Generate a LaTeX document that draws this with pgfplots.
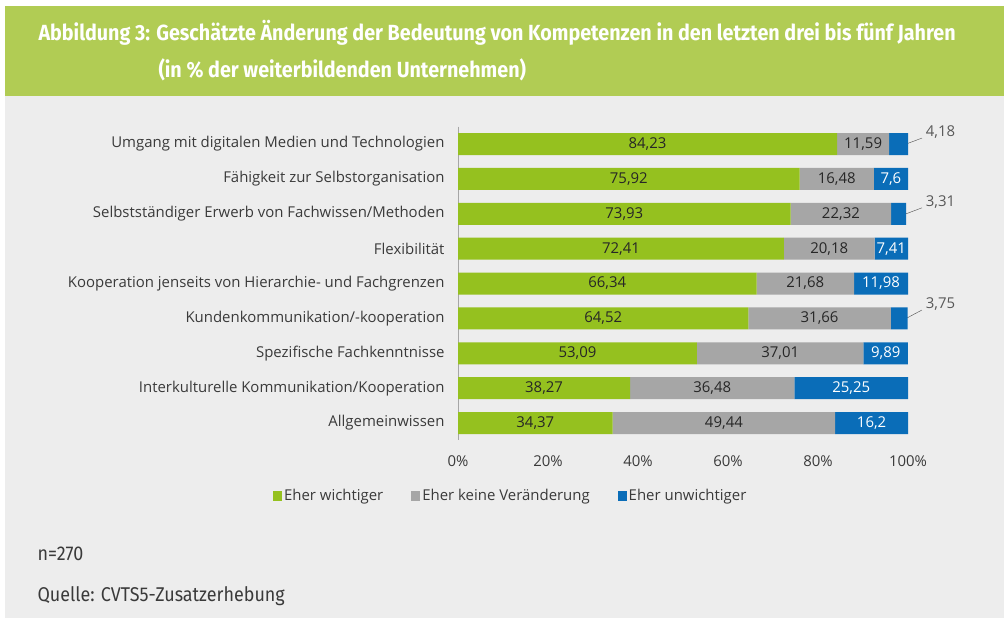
\documentclass[border=0pt]{standalone}
\usepackage{fontspec}
\setmainfont{Open Sans}
\newfontfamily\condfont[FakeStretch=0.90]{Fira Sans}
\usepackage{pgfplots}
\usepackage{pgfplotstable}
\pgfplotsset{compat=1.18}

\definecolor{hdr}{HTML}{B1CC54}
\definecolor{bg}{HTML}{EDEDED}
\definecolor{cG}{HTML}{95C11F}
\definecolor{cK}{HTML}{A6A6A6}
\definecolor{cU}{HTML}{0A6DB8}
\definecolor{txt}{HTML}{3A3A3A}

% i = row, g/k/u = wichtiger / keine Veraenderung / unwichtiger
\pgfplotstableread{
i g     k     u     gl    kl    ul
0 84.23 11.59 4.18  84,23 11,59 {}
1 75.92 16.48 7.6   75,92 16,48 7,6
2 73.93 22.32 3.31  73,93 22,32 {}
3 72.41 20.18 7.41  72,41 20,18 7,41
4 66.34 21.68 11.98 66,34 21,68 11,98
5 64.52 31.66 3.75  64,52 31,66 {}
6 53.09 37.01 9.89  53,09 37,01 9,89
7 38.27 36.48 25.25 38,27 36,48 25,25
8 34.37 49.44 16.2  34,37 49,44 16,2
}\data

\newcommand{\fs}{\fontsize{15}{18}\selectfont}

\pgfplotsset{
  frame/.style={
    at={(458bp,-144bp)}, anchor=origin,
    x=4.5bp, y=34.875bp, y dir=reverse,
    xmin=0, xmax=100, ymin=-0.5, ymax=8.5,
    clip=false,
  },
  seglabel/.style={draw=none, mark=none, nodes near coords,
    point meta=explicit symbolic,
    nodes near coords style={anchor=center, inner sep=0pt, font=\fs, text=#1}},
}

\begin{document}
\begin{tikzpicture}
\fill[white] (0bp,0bp) rectangle (1004bp,-619bp);
\fill[hdr] (5bp,-6bp) rectangle (1004bp,-96bp);
\fill[bg] (5bp,-96bp) rectangle (1004bp,-618bp);

\node[anchor=west, text=white, font=\condfont\bfseries\fontsize{22}{26}\selectfont]
  at (35bp,-33bp) {Abbildung 3: Geschätzte Änderung der Bedeutung von Kompetenzen in den letzten drei bis fünf Jahren};
\node[anchor=west, text=white, font=\condfont\bfseries\fontsize{22}{26}\selectfont]
  at (155bp,-70bp) {(in \% der weiterbildenden Unternehmen)};

\begin{axis}[
    frame,
    xbar stacked, bar width=22bp,
    axis lines*=left,
    x axis line style={draw=none},
    y axis line style={draw=gray!70},
    major tick length=0,
    xtick={0,20,...,100},
    xticklabels={0\%,20\%,40\%,60\%,80\%,100\%},
    xticklabel style={font=\fs, text=txt, yshift=-12bp},
    ytick={0,...,8},
    yticklabels={Umgang mit digitalen Medien und Technologien,
      Fähigkeit zur Selbstorganisation,
      Selbstständiger Erwerb von Fachwissen/Methoden,
      Flexibilität,
      Kooperation jenseits von Hierarchie- und Fachgrenzen,
      Kundenkommunikation/-kooperation,
      Spezifische Fachkenntnisse,
      Interkulturelle Kommunikation/Kooperation,
      Allgemeinwissen},
    yticklabel style={font=\fs, text=txt, xshift=-10bp},
    legend columns=3,
    legend style={at={(-0.418,-0.177)}, anchor=west, draw=none, fill=none,
      font=\fs, text=txt,
      /tikz/every even column/.append style={column sep=26bp}},
    legend image code/.code={\fill[#1] (0bp,-4.5bp) rectangle (9bp,4.5bp);},
]
\addplot[fill=cG, draw=none] table[x=g, y=i]{\data};
\addlegendentry{Eher wichtiger}
\addplot[fill=cK, draw=none] table[x=k, y=i]{\data};
\addlegendentry{Eher keine Veränderung}
\addplot[fill=cU, draw=none] table[x=u, y=i]{\data};
\addlegendentry{Eher unwichtiger}

% small values outside the bars
\draw[gray!60!black] (axis cs:99.6,0) -- (axis cs:103.1,-0.17);
\node[anchor=west, font=\fs, text=gray!70!black] at (axis cs:103.2,-0.34) {4,18};
\draw[gray!60!black] (axis cs:99.6,2) -- (axis cs:103.1,1.83);
\node[anchor=west, font=\fs, text=gray!70!black] at (axis cs:103.2,1.66) {3,31};
\draw[gray!60!black] (axis cs:99.6,5) -- (axis cs:103.1,4.76);
\node[anchor=west, font=\fs, text=gray!70!black] at (axis cs:103.2,4.58) {3,75};
\end{axis}

% value labels, centred in each segment
\begin{axis}[frame, hide axis]
\addplot[seglabel=black!85] table[x expr=\thisrow{g}/2, y=i, meta=gl]{\data};
\addplot[seglabel=black!85] table[x expr=\thisrow{g}+\thisrow{k}/2, y=i, meta=kl]{\data};
\addplot[seglabel=white] table[x expr=\thisrow{g}+\thisrow{k}+\thisrow{u}/2, y=i, meta=ul]{\data};
\end{axis}

\node[anchor=west, text=txt, font=\condfont\fontsize{20}{24}\selectfont] at (34bp,-554bp) {n=270};
\node[anchor=west, text=txt, font=\condfont\fontsize{20}{24}\selectfont] at (34bp,-596bp) {Quelle: CVTS5-Zusatzerhebung};

\pgfresetboundingbox
\path[use as bounding box] (0bp,0bp) rectangle (1004bp,-619bp);
\end{tikzpicture}
\end{document}
